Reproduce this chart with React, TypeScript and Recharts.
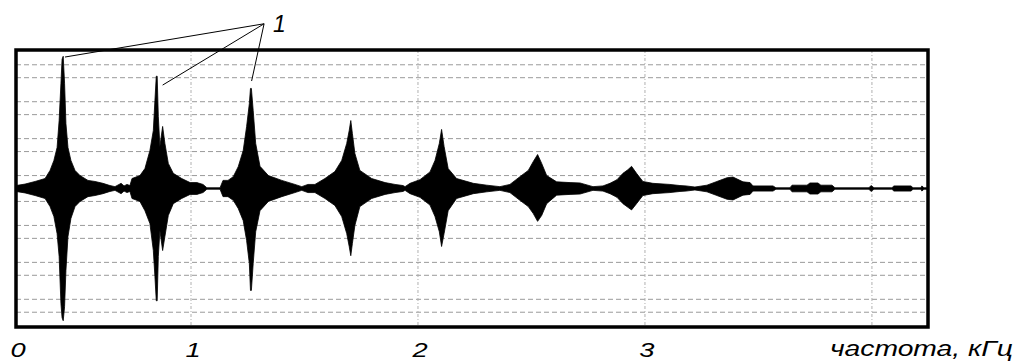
import React from 'react';
import {
  ComposedChart,
  Area,
  XAxis,
  YAxis,
  CartesianGrid,
  ReferenceArea,
  ReferenceLine,
  ReferenceDot,
} from 'recharts';

// frequency, kHz
const freqKHz = [
  0.229, 0.269, 0.313, 0.357, 0.379, 0.396, 0.41, 0.419, 0.427, 0.432, 0.437, 0.443, 0.449, 0.458, 0.471, 0.489,
  0.511, 0.546, 0.577, 0.612, 0.643, 0.665, 0.683, 0.692, 0.705, 0.718, 0.731, 0.74, 0.775, 0.797, 0.819, 0.834,
  0.841, 0.847, 0.851, 0.856, 0.863, 0.875, 0.885, 0.9, 0.922, 0.959, 0.996, 1.026, 1.053, 1.07, 1.128, 1.141,
  1.163, 1.186, 1.208, 1.23, 1.245, 1.257, 1.262, 1.266, 1.274, 1.285, 1.304, 1.341, 1.4, 1.458, 1.488, 1.515,
  1.546, 1.59, 1.634, 1.664, 1.686, 1.697, 1.704, 1.711, 1.722, 1.744, 1.796, 1.855, 1.899, 1.934, 1.943, 1.965,
  2.009, 2.053, 2.075, 2.094, 2.104, 2.115, 2.133, 2.17, 2.244, 2.303, 2.361, 2.405, 2.449, 2.486, 2.508, 2.527,
  2.545, 2.567, 2.611, 2.67, 2.714, 2.771, 2.815, 2.846, 2.877, 2.903, 2.925, 2.941, 2.963, 2.991, 3.035, 3.11,
  3.154, 3.181, 3.22, 3.273, 3.317, 3.361, 3.388, 3.432, 3.463, 3.476, 3.564, 3.577, 3.639, 3.648, 3.714, 3.727,
  3.762, 3.775, 3.824, 3.837, 3.987, 3.996, 4.009, 4.088, 4.097, 4.172, 4.181, 4.216, 4.22, 4.229, 4.247,
];

// upper envelope of the spectrum (relative units)
const upperAmp = [
  0.08, 0.12, 0.19, 0.27, 0.49, 0.76, 1.11, 1.84, 2.85, 3.5, 3.58, 2.85, 1.76, 1.11, 0.76, 0.49,
  0.35, 0.22, 0.19, 0.14, 0.08, 0.05, 0.11, 0.14, 0.07, 0.11, 0.08, 0.27, 0.35, 0.54, 1.03, 1.57,
  2.38, 3.04, 3.04, 1.95, 1.14, 1.68, 1.22, 0.68, 0.41, 0.27, 0.16, 0.16, 0.11, 0.02, 0.02, 0.22,
  0.22, 0.32, 0.59, 1.03, 1.68, 2.3, 2.71, 2.71, 2.11, 1.22, 0.6, 0.35, 0.22, 0.11, 0.05, 0.11,
  0.11, 0.27, 0.46, 0.76, 1.22, 1.57, 1.84, 1.49, 0.95, 0.49, 0.27, 0.16, 0.11, 0.08, 0.05, 0.14,
  0.24, 0.45, 0.76, 1.22, 1.6, 1.14, 0.54, 0.27, 0.14, 0.09, 0.05, 0.11, 0.32, 0.49, 0.73, 0.92,
  0.68, 0.35, 0.18, 0.16, 0.15, 0.05, 0.07, 0.14, 0.24, 0.41, 0.51, 0.6, 0.41, 0.19, 0.14, 0.11,
  0.08, 0.07, 0.04, 0.09, 0.19, 0.29, 0.31, 0.18, 0.16, 0.07, 0.07, 0.02, 0.02, 0.09, 0.09, 0.15,
  0.15, 0.09, 0.09, 0.02, 0.02, 0.08, 0.02, 0.02, 0.07, 0.07, 0.02, 0.02, 0.07, 0.02, 0.02,
];

// lower envelope of the spectrum (relative units, magnitude below the axis)
const lowerAmp = [
  0.08, 0.12, 0.19, 0.27, 0.49, 0.76, 1.22, 1.84, 3.12, 3.5, 3.58, 3.2, 2.22, 1.3, 0.81, 0.49,
  0.35, 0.22, 0.19, 0.14, 0.08, 0.05, 0.11, 0.14, 0.07, 0.11, 0.08, 0.27, 0.35, 0.6, 0.95, 1.68,
  2.38, 3.04, 3.04, 1.84, 1.14, 1.68, 1.3, 0.73, 0.41, 0.27, 0.16, 0.16, 0.11, 0.02, 0.02, 0.22,
  0.22, 0.32, 0.54, 0.87, 1.41, 2.03, 2.76, 2.76, 2.03, 1.17, 0.6, 0.35, 0.22, 0.11, 0.05, 0.11,
  0.11, 0.27, 0.46, 0.76, 1.22, 1.57, 1.82, 1.49, 1.0, 0.49, 0.27, 0.16, 0.11, 0.08, 0.05, 0.14,
  0.24, 0.45, 0.76, 1.17, 1.57, 1.22, 0.6, 0.27, 0.14, 0.09, 0.05, 0.11, 0.32, 0.49, 0.68, 0.89,
  0.73, 0.41, 0.18, 0.16, 0.15, 0.05, 0.07, 0.14, 0.24, 0.41, 0.51, 0.58, 0.41, 0.19, 0.14, 0.11,
  0.08, 0.07, 0.04, 0.09, 0.19, 0.29, 0.31, 0.18, 0.16, 0.07, 0.07, 0.02, 0.02, 0.09, 0.09, 0.15,
  0.15, 0.09, 0.09, 0.02, 0.02, 0.08, 0.02, 0.02, 0.07, 0.07, 0.02, 0.02, 0.07, 0.02, 0.02,
];

const xDomain = [0.229, 4.247];
const yDomain = [-3.75, 3.75];
const xTickValues = [0.229, 1, 2, 3, 4];
const xTickLabels = ['0', '1', '2', '3', 'частота, кГц'];
const yGridValues = [-3.35, -3, -2.35, -2, -1.35, -1, -0.35, 0.35, 1, 1.35, 2, 2.35, 3, 3.35];

const calloutOrigin = { x: 1.322, y: 4.46 };
const calloutTargets = [
  { x: 0.445, y: 3.56 },
  { x: 0.875, y: 2.8 },
  { x: 1.267, y: 2.91 },
];
const calloutLabel = '1';

const data = freqKHz.map((f, i) => ({ f, band: [-lowerAmp[i], upperAmp[i]] }));

const FONT = '"Liberation Sans", Arial, sans-serif';

function FreqTick(props: any) {
  const { x, y, payload } = props;
  const i = xTickValues.indexOf(payload.value);
  const label = xTickLabels[i];
  if (i === xTickLabels.length - 1) {
    return (
      <text
        x={x - 42}
        y={y + 29}
        fontFamily={FONT}
        fontStyle="italic"
        fontSize={22}
        fill="#000"
        textLength={183}
        lengthAdjust="spacingAndGlyphs"
      >
        {label}
      </text>
    );
  }
  return (
    <text
      transform={`translate(${x + 2},${y + 30}) scale(1.3,1)`}
      textAnchor="middle"
      fontFamily={FONT}
      fontStyle="italic"
      fontSize={21}
      fill="#000"
    >
      {label}
    </text>
  );
}

export default function App() {
  return (
    <div style={{ position: 'absolute', left: 0, top: 0, width: 1021, height: 364, background: '#fff' }}>
      <ComposedChart width={1021} height={364} data={data} margin={{ top: 50, right: 93, bottom: 0, left: 16 }}>
        <CartesianGrid horizontal vertical={false} stroke="#9a9a9a" strokeDasharray="5 3" />
        <CartesianGrid horizontal={false} vertical stroke="#b0b0b0" strokeDasharray="3 2 1 2" />
        <XAxis
          type="number"
          dataKey="f"
          domain={xDomain}
          ticks={xTickValues}
          allowDataOverflow
          interval={0}
          axisLine={false}
          tickLine={false}
          tickSize={0}
          tickMargin={0}
          height={37}
          tick={<FreqTick />}
        />
        <YAxis type="number" domain={yDomain} ticks={yGridValues} interval={0} hide allowDataOverflow />
        <Area
          type="linear"
          dataKey="band"
          stroke="#000"
          strokeWidth={0.8}
          fill="#000"
          fillOpacity={1}
          dot={false}
          activeDot={false}
          isAnimationActive={false}
        />
        <ReferenceArea
          x1={xDomain[0]}
          x2={xDomain[1]}
          y1={yDomain[0]}
          y2={yDomain[1]}
          fill="none"
          fillOpacity={0}
          stroke="#000"
          strokeWidth={3.5}
          ifOverflow="visible"
        />
        {calloutTargets.map((t, k) => (
          <ReferenceLine
            key={k}
            segment={[calloutOrigin, t]}
            stroke="#000"
            strokeWidth={1}
            ifOverflow="visible"
          />
        ))}
        <ReferenceDot
          x={calloutOrigin.x}
          y={calloutOrigin.y}
          r={0}
          fill="none"
          stroke="none"
          ifOverflow="visible"
          label={{
            value: calloutLabel,
            position: 'right',
            offset: 9,
            fontSize: 23,
            fontStyle: 'italic',
            fontFamily: FONT,
            fill: '#000',
          }}
        />
      </ComposedChart>
    </div>
  );
}
